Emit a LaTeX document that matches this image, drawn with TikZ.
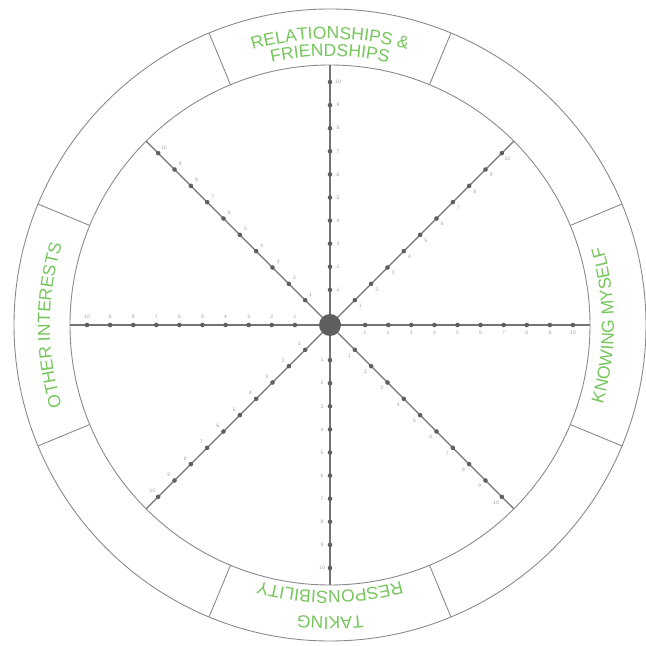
\documentclass[tikz,border=0pt]{standalone}
\usepackage{fontspec}
\newfontfamily\lblfont{Liberation Sans}
\usetikzlibrary{calc,decorations.text}
\definecolor{lblgreen}{RGB}{118,198,92}
\definecolor{linegray}{RGB}{138,138,138}
\definecolor{spokegray}{RGB}{115,115,115}
\definecolor{dotgray}{RGB}{95,95,95}
\newcommand{\ringfont}{\lblfont\fontsize{17.5}{20}\selectfont\color{lblgreen}}
\begin{document}
\begin{tikzpicture}[x=1pt,y=1pt,
  ring/.style={draw=linegray, line width=0.9pt},
  spoke/.style={draw=spokegray, line width=1.3pt},
  tickdot/.style={circle, fill=dotgray, inner sep=0pt, minimum size=4.6pt},
  ticknum/.style={font=\lblfont\fontsize{5}{5}\selectfont, text=gray!75, inner sep=0pt},
  hub/.style={circle, fill=dotgray, minimum size=22pt, inner sep=0pt},
  curvetext/.style={decorate, decoration={text along path, text align=center, text={#1}}}
]
\useasboundingbox (0,0) rectangle (646,646);
\coordinate (C) at (330,321);
\draw[ring] (C) circle[radius=316];
\draw[ring] (C) circle[radius=260];
\foreach \a [count=\i] in {22.5,67.5,...,337.5}{
  \coordinate (di\i) at ($(C)+(\a:260)$);
  \coordinate (do\i) at ($(C)+(\a:316)$);
  \draw[ring] (di\i) -- (do\i);
}
\foreach \a in {0,45,...,315}{
  \coordinate (e\a) at ($(C)+(\a:260)$);
  \draw[spoke] (C) -- (e\a);
  \foreach \k in {1,...,10}{
    \node[tickdot] (t\a-\k) at ($(C)+(\a:{12+23.1*\k})$) {};
    \node[ticknum] (n\a-\k) at ($(t\a-\k)+({\a-90}:8)$) {\k};
  }
}
\node[hub] (hub) at (C) {};
% ring labels
\path[curvetext={|\ringfont|RELATIONSHIPS {\&}}] ($(C)+(120:286)$) arc[start angle=120, end angle=60, radius=286];
\path[curvetext={|\ringfont|FRIENDSHIPS}] ($(C)+(125:269)$) arc[start angle=125, end angle=55, radius=269];
\path[curvetext={|\ringfont|TAKING}] ($(C)+(300:292)$) arc[start angle=300, end angle=240, radius=292];
\path[curvetext={|\ringfont|RESPONSIBILITY}] ($(C)+(305:266)$) arc[start angle=305, end angle=235, radius=266];
\path[curvetext={|\ringfont|KNOWING MYSELF}] ($(C)+(-30:284)$) arc[start angle=-30, end angle=30, radius=284];
\path[curvetext={|\ringfont|OTHER INTERESTS}] ($(C)+(210:280)$) arc[start angle=210, end angle=150, radius=280];
\end{tikzpicture}
\end{document}
